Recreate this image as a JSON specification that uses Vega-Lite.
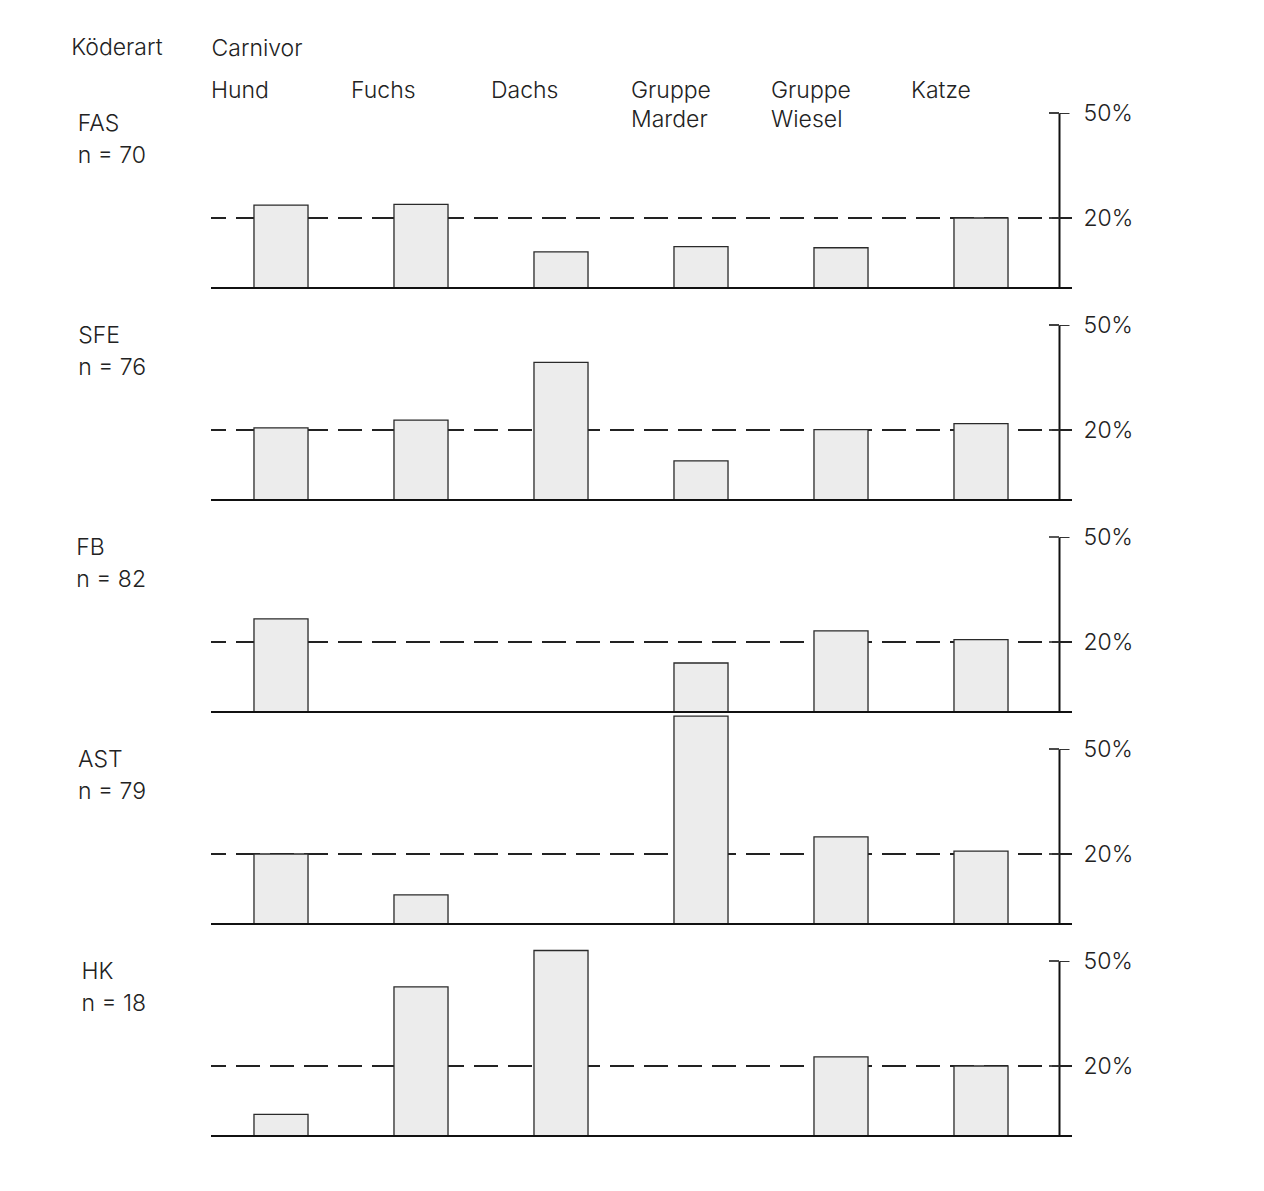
{
  "$schema": "https://vega.github.io/schema/vega-lite/v6.json",
  "background": "white",
  "padding": {"left": 71, "top": 37, "right": 10, "bottom": 10},
  "title": {"text": "Köderart", "anchor": "start", "frame": "bounds", "font": "Inter", "fontSize": 23, "fontWeight": 300, "color": "#222", "dy": 27, "dx": -5},
  "data": {"values": [
    {"koeder": "FAS|n = 70", "art": "Hund", "anteil": 23.7},
    {"koeder": "FAS|n = 70", "art": "Fuchs", "anteil": 23.9},
    {"koeder": "FAS|n = 70", "art": "Dachs", "anteil": 10.3},
    {"koeder": "FAS|n = 70", "art": "Gruppe Marder", "anteil": 11.8},
    {"koeder": "FAS|n = 70", "art": "Gruppe Wiesel", "anteil": 11.5},
    {"koeder": "FAS|n = 70", "art": "Katze", "anteil": 20},
    {"koeder": "SFE|n = 76", "art": "Hund", "anteil": 20.6},
    {"koeder": "SFE|n = 76", "art": "Fuchs", "anteil": 22.8},
    {"koeder": "SFE|n = 76", "art": "Dachs", "anteil": 39.3},
    {"koeder": "SFE|n = 76", "art": "Gruppe Marder", "anteil": 11.2},
    {"koeder": "SFE|n = 76", "art": "Gruppe Wiesel", "anteil": 20.1},
    {"koeder": "SFE|n = 76", "art": "Katze", "anteil": 21.8},
    {"koeder": "FB|n = 82", "art": "Hund", "anteil": 26.6},
    {"koeder": "FB|n = 82", "art": "Gruppe Marder", "anteil": 14.0},
    {"koeder": "FB|n = 82", "art": "Gruppe Wiesel", "anteil": 23.2},
    {"koeder": "FB|n = 82", "art": "Katze", "anteil": 20.7},
    {"koeder": "AST|n = 79", "art": "Hund", "anteil": 20},
    {"koeder": "AST|n = 79", "art": "Fuchs", "anteil": 8.3},
    {"koeder": "AST|n = 79", "art": "Gruppe Marder", "anteil": 59.4},
    {"koeder": "AST|n = 79", "art": "Gruppe Wiesel", "anteil": 24.9},
    {"koeder": "AST|n = 79", "art": "Katze", "anteil": 20.8},
    {"koeder": "HK|n = 18", "art": "Hund", "anteil": 6.2},
    {"koeder": "HK|n = 18", "art": "Fuchs", "anteil": 42.6},
    {"koeder": "HK|n = 18", "art": "Dachs", "anteil": 53.0},
    {"koeder": "HK|n = 18", "art": "Gruppe Wiesel", "anteil": 22.6},
    {"koeder": "HK|n = 18", "art": "Katze", "anteil": 20}
  ]},
  "facet": {
    "row": {
      "field": "koeder", "type": "nominal",
      "sort": ["FAS|n = 70", "SFE|n = 76", "FB|n = 82", "AST|n = 79", "HK|n = 18"],
      "header": {
        "title": null,
        "labelOrient": "left", "labelAngle": 0, "labelAlign": "left", "labelAnchor": "end", "labelBaseline": "top",
        "labelExpr": "split(datum.value, '|')",
        "labelFont": "Inter", "labelFontSize": 23, "labelFontWeight": 300, "labelColor": "#222", "labelLineHeight": 32,
        "labelPadding": 65
      }
    }
  },
  "bounds": "flush",
  "spacing": {"row": 37},
  "spec": {
    "width": 861,
    "height": 175,
    "layer": [
      {
        "mark": {"type": "rule", "strokeDash": [24, 10], "strokeDashOffset": 4, "strokeWidth": 2, "color": "#222"},
        "encoding": {
          "y": {"datum": 20, "type": "quantitative"}
        }
      },
      {
        "mark": {"type": "bar", "fill": "#ececec", "stroke": "#2a2a2a", "strokeWidth": 1.3, "width": {"band": 0.386}},
        "encoding": {
          "x": {"field": "art", "type": "nominal",
            "scale": {"domain": ["Hund", "Fuchs", "Dachs", "Gruppe Marder", "Gruppe Wiesel", "Katze"], "paddingInner": 0, "paddingOuter": 0.075, "align": 0},
            "axis": {"orient": "top", "domain": false, "ticks": false, "tickSize": 0, "labelAlign": "left", "labelBaseline": "top", "labelAngle": 0, "labelOffset": -70,
              "labelExpr": "split(datum.label, ' ')", "labelPadding": 34, "labelLineHeight": 29,
              "labelFont": "Inter", "labelFontSize": 23, "labelFontWeight": 300, "labelColor": "#222",
              "title": "Carnivor", "titleAnchor": "start", "titleAlign": "left", "titleFont": "Inter", "titleFontSize": 23, "titleFontWeight": 300, "titleColor": "#222", "titlePadding": 19}},
          "y": {"field": "anteil", "type": "quantitative", "scale": {"domain": [0, 50]},
            "axis": {"orient": "right", "offset": -13, "values": [20, 50], "labelExpr": "datum.value + '%'", "grid": false, "title": null,
              "domain": true, "domainColor": "#111", "domainWidth": 2, "tickSize": 10, "tickWidth": 1, "tickColor": "#333",
              "labelPadding": 14, "labelFont": "Inter", "labelFontSize": 23, "labelFontWeight": 300, "labelColor": "#222"}}
        }
      },
      {
        "mark": {"type": "rule", "strokeWidth": 2, "color": "#111"},
        "encoding": {"y": {"datum": 0, "type": "quantitative"}}
      },
      {
        "mark": {"type": "tick", "orient": "horizontal", "size": 10, "thickness": 1, "color": "#333", "xOffset": 73},
        "encoding": {"x": {"datum": "Katze", "type": "nominal"}, "y": {"datum": 50, "type": "quantitative"}}
      },
      {
        "mark": {"type": "tick", "orient": "horizontal", "size": 10, "thickness": 1, "color": "#333", "xOffset": 73},
        "encoding": {"x": {"datum": "Katze", "type": "nominal"}, "y": {"datum": 20, "type": "quantitative"}}
      }
    ]
  },
  "config": {"view": {"stroke": null}}
}
